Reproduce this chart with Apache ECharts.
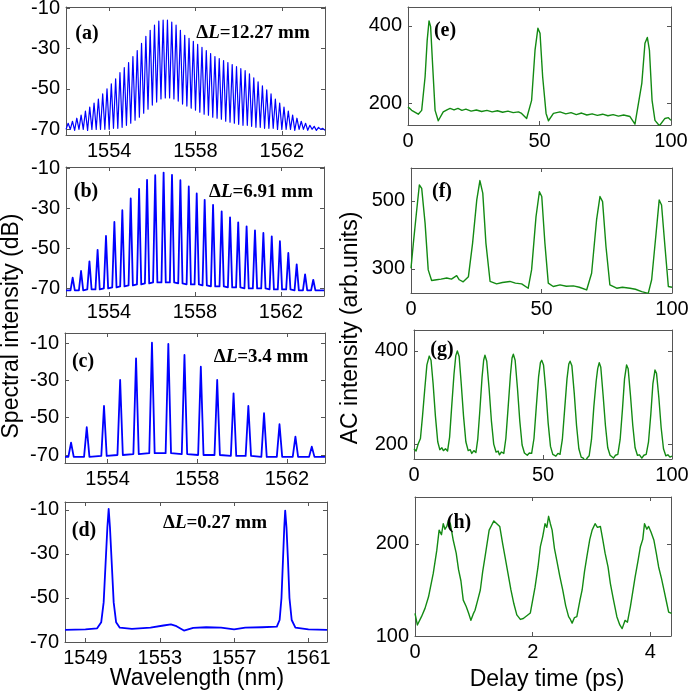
<!DOCTYPE html>
<html>
<head>
<meta charset="utf-8">
<title>Comb spectra and autocorrelation traces</title>
<script src="https://cdn.jsdelivr.net/npm/echarts@6/dist/echarts.min.js"></script>
<style>
    html, body { margin: 0; padding: 0; background: #fff; }
    #chart { width: 691px; height: 697px; }
</style>
</head>
<body>
<div id="chart"></div>
<script>
// ---- (a) dL = 12.27 mm : fringe tops and bottoms
const aPeakWl = [1552.1, 1552.3, 1552.5, 1552.7, 1552.9, 1553.1, 1553.3, 1553.5, 1553.7, 1553.9,
    1554.1, 1554.3, 1554.5, 1554.7, 1554.9, 1555.1, 1555.3, 1555.5, 1555.7, 1555.9,
    1556.1, 1556.3, 1556.5, 1556.7, 1556.9, 1557.1, 1557.3, 1557.5, 1557.7, 1557.9,
    1558.1, 1558.3, 1558.5, 1558.7, 1558.9, 1559.1, 1559.3, 1559.5, 1559.7, 1559.9,
    1560.1, 1560.3, 1560.5, 1560.7, 1560.9, 1561.1, 1561.3, 1561.5, 1561.7, 1561.9,
    1562.1, 1562.3, 1562.5, 1562.7, 1562.9, 1563.1, 1563.3, 1563.5, 1563.7, 1563.9];
const aPeakDb = [-67, -66, -64.5, -63, -61, -59, -57, -55, -52.5, -50,
    -47.5, -45, -42, -39.5, -37, -34, -31, -27.5, -24, -21,
    -18.5, -16.5, -16, -16, -17, -18.5, -21, -23.5, -25, -26.5,
    -28, -29.5, -31, -32.5, -34, -35, -36, -37, -38, -39,
    -40, -41, -42.5, -44.5, -46.5, -48.5, -50.5, -52.5, -55, -57,
    -59, -61, -63, -64.5, -66, -67, -68, -68.5, -69, -69.5];
const aValleyWl = [1552.0, 1552.2, 1552.4, 1552.6, 1552.8, 1553.0, 1553.2, 1553.4, 1553.6, 1553.8,
    1554.0, 1554.2, 1554.4, 1554.6, 1554.8, 1555.0, 1555.2, 1555.4, 1555.6, 1555.8,
    1556.0, 1556.2, 1556.4, 1556.6, 1556.8, 1557.0, 1557.2, 1557.4, 1557.6, 1557.8,
    1558.0, 1558.2, 1558.4, 1558.6, 1558.8, 1559.0, 1559.2, 1559.4, 1559.6, 1559.8,
    1560.0, 1560.2, 1560.4, 1560.6, 1560.8, 1561.0, 1561.2, 1561.4, 1561.6, 1561.8,
    1562.0, 1562.2, 1562.4, 1562.6, 1562.8, 1563.0, 1563.2, 1563.4, 1563.6, 1563.8, 1564.0];
const aValleyDb = [-70, -70, -70.5, -70, -70, -70.5, -70, -70, -70, -70,
    -70, -69.5, -69.5, -69, -68, -67, -65.5, -64, -62, -60,
    -58, -56.5, -55, -54.5, -54.5, -55, -56, -57.5, -58.5, -59.5,
    -60.5, -61.5, -62.5, -63, -64, -64.5, -65, -66, -66.5, -67,
    -67.5, -68, -68, -68.5, -69, -69, -69.5, -69.5, -69.5, -70,
    -70, -70, -70, -70.5, -70, -70, -70.5, -70, -70.5, -70, -70.5];

// ---- (b) dL = 6.91 mm
const bPeakWl = [1552.31, 1552.70, 1553.09, 1553.47, 1553.86, 1554.25, 1554.62, 1555.01, 1555.40, 1555.77,
    1556.15, 1556.54, 1556.93, 1557.32, 1557.71, 1558.08, 1558.45, 1558.84, 1559.24, 1559.63,
    1560.01, 1560.40, 1560.79, 1561.18, 1561.57, 1561.95, 1562.34, 1562.73, 1563.12, 1563.50];
const bPeakDb = [-64.6, -61.3, -56.5, -50.7, -43.8, -36.8, -30.9, -25, -20.2, -15.7,
    -13.4, -12.1, -13.2, -15.9, -19, -22.5, -25.7, -28.2, -31.5, -34.5,
    -37, -39, -41, -42.3, -44, -46.4, -52.3, -58, -63, -65.7];
const bBaseDb = [-71, -71, -70.5, -70.5, -70, -69.5, -69, -68.5, -68, -67.5,
    -67, -67, -67, -67.5, -68, -68, -68.5, -69, -69, -69.5,
    -69.5, -70, -70, -70, -70.5, -70.5, -70.5, -71, -71, -71];
const bFoot = 0.1;   // half width of a comb line at its foot (nm)

// ---- (c) dL = 3.4 mm
const cPeakWl = [1552.37, 1553.07, 1553.84, 1554.56, 1555.27, 1555.98, 1556.71, 1557.43,
    1558.16, 1558.89, 1559.62, 1560.28, 1560.98, 1561.67, 1562.38, 1563.11];
const cPeakDb = [-63.4, -55.1, -43.7, -29.7, -18.1, -9.7, -10.4, -16.3,
    -22.6, -29.7, -36.9, -43.7, -47.6, -53.5, -60.2, -65.5];
const cBaseDb = [-71, -71, -70.5, -70, -69.5, -69, -69, -69.5,
    -70, -70, -70.5, -70.5, -71, -71, -71, -71];
const cFoot = 0.12;

// ---- (d) dL = 0.27 mm
const dWl = [1547.9, 1549.0, 1549.63, 1549.85, 1549.98, 1550.08, 1550.18, 1550.25, 1550.32, 1550.42,
    1550.52, 1550.65, 1550.85, 1551.5, 1552.5, 1553.2, 1553.6, 1553.9, 1554.3, 1554.8,
    1555.5, 1556.3, 1557.0, 1557.6, 1558.5, 1559.3, 1559.45, 1559.55, 1559.63, 1559.7,
    1559.75, 1559.82, 1559.9, 1559.98, 1560.1, 1560.3, 1561.0, 1562.0];
const dDb = [-64.5, -64.3, -63.8, -61, -52, -35, -18, -9.5, -18, -35,
    -52, -61, -63.5, -64, -63.5, -62.5, -62, -62.8, -64.8, -63.6,
    -63.3, -63.5, -64.3, -63.5, -63.3, -63, -60, -50, -33, -18,
    -10.3, -18, -33, -50, -60, -63.5, -64.3, -64.5];

// ---- (e) autocorrelation, 0-100 ps
const eT = [0, 1.4, 3.9, 5.2, 6.5, 7.3, 8.0, 8.6, 9.4, 10.3,
    11.5, 13.4, 15, 16, 17.5, 19, 20.5, 22, 24, 26,
    28, 30, 32, 34, 36, 38, 40, 42, 43.2, 45.1,
    47, 48.3, 49.4, 50.2, 51.2, 52.5, 53.4, 55.3, 57.8, 60,
    62, 64, 66, 68, 70, 72, 74, 76, 78, 80,
    82, 84.4, 86.3, 88.9, 90.1, 91, 91.8, 92.8, 93.9, 95.6,
    97.7, 99, 100];
const eVal = [190, 181, 171, 181, 268, 363, 413, 398, 294, 181,
    154, 177, 183, 186, 182, 186, 181, 184, 179, 182,
    178, 181, 177, 180, 176, 179, 175, 177, 173, 160,
    207, 337, 394, 381, 268, 173, 154, 173, 177, 172,
    175, 170, 174, 169, 172, 168, 171, 167, 170, 166,
    169, 165, 145, 251, 355, 370, 337, 207, 155, 141,
    160, 162, 155];

// ---- (f)
const fT = [0, 0.9, 2.2, 3.2, 4.1, 5.4, 6.6, 7.9, 9.8, 11.5,
    13.7, 15.5, 17.5, 18.5, 20, 22, 23.6, 25.2, 26.4, 27.5,
    28.7, 30.3, 32.8, 35, 37.9, 40, 42.4, 44.9, 46.2, 47.9,
    49.2, 50.1, 51.3, 52.6, 54.5, 57.1, 59.5, 62.2, 64.5, 67.3,
    69.2, 71.1, 72.4, 73.4, 74.7, 76.2, 78.8, 81, 83.9, 86,
    88.4, 90.9, 92.2, 93.9, 95.1, 96, 97.3, 98.6, 100];
const fVal = [302, 375, 474, 547, 537, 434, 297, 266, 268, 270,
    273, 270, 280, 268, 262, 277, 376, 503, 560, 523,
    376, 263, 256, 260, 263, 258, 256, 243, 297, 454,
    527, 513, 376, 258, 248, 253, 249, 250, 246, 238,
    287, 444, 513, 498, 366, 253, 243, 246, 243, 240,
    233, 228, 268, 405, 503, 488, 366, 248, 246];

// ---- (g)
const gT = [0, 0.8, 1.6, 2.5, 3.3, 4.2, 5.0, 5.9, 6.6, 7.4,
    8.3, 9.2, 10.0, 10.8, 11.4, 12.2, 13.0, 13.8, 14.6, 15.5,
    16.2, 16.8, 17.5, 18.3, 19.2, 20.1, 21.0, 21.8, 22.4, 23.2,
    24.0, 24.7, 25.5, 26.4, 27.0, 27.5, 28.2, 29.1, 30.0, 30.9,
    31.8, 32.6, 33.1, 33.9, 34.8, 35.6, 36.5, 37.4, 38.0, 38.5,
    39.2, 40.1, 41.0, 41.9, 42.8, 43.4, 43.9, 44.7, 45.6, 46.5,
    47.4, 48.3, 49.0, 49.5, 50.2, 51.1, 52.0, 52.9, 53.8, 54.5,
    55.0, 55.8, 56.6, 57.5, 58.4, 59.3, 60.0, 60.5, 61.2, 62.1,
    63.0, 63.9, 64.8, 65.6, 66.3, 67.1, 67.9, 68.8, 69.7, 70.6,
    71.2, 71.8, 72.4, 73.3, 74.2, 75.1, 76.0, 76.7, 77.3, 78.1,
    79.0, 79.9, 80.8, 81.6, 82.4, 83.0, 83.9, 84.8, 85.7, 86.6,
    87.4, 88.3, 89.1, 90.0, 90.9, 91.8, 92.6, 93.4, 94.0, 94.9,
    95.8, 96.7, 97.6, 98.4, 99.2, 100];
const gVal = [190, 185, 200, 212, 260, 320, 370, 389, 380, 330,
    260, 205, 188, 192, 186, 190, 185, 215, 280, 350,
    390, 400, 388, 330, 260, 205, 186, 188, 180, 186,
    182, 210, 270, 345, 380, 391, 378, 320, 250, 200,
    183, 185, 177, 183, 180, 212, 280, 350, 385, 393,
    380, 320, 250, 198, 181, 183, 176, 181, 180, 212,
    280, 345, 375, 380, 370, 315, 245, 195, 178, 181,
    174, 180, 178, 210, 275, 340, 372, 378, 368, 310,
    240, 190, 172, 170, 163, 170, 175, 210, 280, 335,
    362, 375, 365, 305, 240, 192, 176, 178, 170, 176,
    178, 210, 275, 340, 370, 362, 305, 240, 192, 176,
    177, 170, 176, 178, 205, 265, 330, 359, 352, 300,
    235, 190, 175, 177, 172, 174];

// ---- (h) 0-4.3 ps
const hT = [0, 0.04, 0.11, 0.17, 0.23, 0.31, 0.37, 0.41, 0.45, 0.48,
    0.51, 0.54, 0.57, 0.6, 0.65, 0.7, 0.74, 0.78, 0.82, 0.87,
    0.91, 0.95, 0.99, 1.02, 1.07, 1.11, 1.15, 1.19, 1.26, 1.3,
    1.34, 1.39, 1.44, 1.49, 1.53, 1.58, 1.63, 1.68, 1.73, 1.79,
    1.84, 1.9, 1.96, 2.04, 2.09, 2.13, 2.17, 2.21, 2.24, 2.27,
    2.3, 2.33, 2.37, 2.41, 2.46, 2.51, 2.56, 2.61, 2.64, 2.67,
    2.71, 2.75, 2.8, 2.84, 2.88, 2.92, 2.97, 3.01, 3.06, 3.1,
    3.15, 3.19, 3.23, 3.28, 3.32, 3.37, 3.43, 3.48, 3.52, 3.57,
    3.61, 3.66, 3.7, 3.74, 3.79, 3.83, 3.87, 3.9, 3.94, 3.97,
    4.01, 4.06, 4.1, 4.14, 4.19, 4.23, 4.27, 4.31, 4.36];
const hVal = [124.6, 112, 121, 130, 142.6, 168, 193, 215, 210, 222,
    216, 219, 226, 222, 204, 190, 172, 160, 139, 132,
    125, 117, 124, 128, 140, 150, 170, 186, 215, 220,
    225, 222, 219, 200, 186, 168, 150, 135, 123, 118,
    119, 122, 125, 153, 175, 197, 208, 222, 218, 230,
    222, 215, 195, 182, 165, 150, 133, 121, 118, 114,
    120, 121, 138, 150, 170, 186, 205, 215, 222, 218,
    219, 205, 190, 175, 157, 140, 121, 112, 108, 117,
    115, 132, 148, 164, 182, 197, 205, 222, 216, 219,
    213, 204, 190, 175, 162, 150, 138, 126, 124.6];

// tick labels
const dbTicks = [-70, -50, -30, -10];
const wlTicks = [1554, 1558, 1562];
const wlTicksD = [1549, 1553, 1557, 1561];
const psTicks = [0, 50, 100];
const psTicksH = [0, 2, 4];

const BLUE = '#0000ff';
const GREEN = '#138a13';
const AXIS_COLOR = '#555';
const SANS = '"Liberation Sans", Arial, sans-serif';
const SERIF = '"Liberation Serif", "Times New Roman", serif';

function zip(xs, ys) {
    return xs.map(function (x, i) { return [x, ys[i]]; });
}

// alternate valley / peak so the fringes come out as one trace
function fringeLine(vWl, vDb, pWl, pDb) {
    var pts = [];
    for (var i = 0; i < vWl.length; i++) {
        pts.push([vWl[i], vDb[i]]);
        if (i < pWl.length) pts.push([pWl[i], pDb[i]]);
    }
    return pts;
}

// narrow comb lines sitting on a baseline
function combLine(wl, top, base, foot, xMin, xMax) {
    var pts = [[xMin, base[0]]];
    for (var i = 0; i < wl.length; i++) {
        pts.push([wl[i] - foot, base[i]]);
        pts.push([wl[i], top[i]]);
        pts.push([wl[i] + foot, base[i]]);
    }
    pts.push([xMax, base[base.length - 1]]);
    return pts;
}

const panels = [
    { grid: [66, 7, 259, 128], x: [1552, 1564], y: [-72.8, -9.5], xt: wlTicks, yt: dbTicks,
      data: fringeLine(aValleyWl, aValleyDb, aPeakWl, aPeakDb), color: BLUE, lw: 1.2,
      tag: '(a)', tagAt: [87, 34], note: '=12.27 mm', noteAt: [253, 33] },
    { grid: [66, 167, 258, 129], x: [1552, 1564], y: [-73.8, -9.3], xt: wlTicks, yt: dbTicks,
      data: combLine(bPeakWl, bPeakDb, bBaseDb, bFoot, 1552, 1564), color: BLUE, lw: 1.8,
      tag: '(b)', tagAt: [86, 192], note: '=6.91 mm', noteAt: [261, 192] },
    { grid: [65, 333, 260, 130], x: [1552.1, 1563.7], y: [-74.3, -4.5], xt: wlTicks, yt: dbTicks,
      data: combLine(cPeakWl, cPeakDb, cBaseDb, cFoot, 1552.1, 1563.7), color: BLUE, lw: 1.8,
      tag: '(c)', tagAt: [83, 362], note: '=3.4 mm', noteAt: [261, 357] },
    { grid: [65, 502, 262, 140], x: [1547.9, 1562], y: [-70, -6.4], xt: wlTicksD, yt: dbTicks,
      data: zip(dWl, dDb), color: BLUE, lw: 1.8,
      tag: '(d)', tagAt: [84, 531], note: '=0.27 mm', noteAt: [215, 523] },
    { grid: [408, 7, 263, 118], x: [0, 100], y: [143, 449], xt: psTicks, yt: [200, 400],
      data: zip(eT, eVal), color: GREEN, lw: 1.4, tag: '(e)', tagAt: [445, 31] },
    { grid: [411, 168, 261, 125], x: [0, 100], y: [229, 597], xt: psTicks, yt: [300, 500],
      data: zip(fT, fVal), color: GREEN, lw: 1.4, tag: '(f)', tagAt: [442, 192] },
    { grid: [414, 330, 258, 129], x: [0, 100], y: [168, 445], xt: psTicks, yt: [200, 400],
      data: zip(gT, gVal), color: GREEN, lw: 1.4, tag: '(g)', tagAt: [442, 350] },
    { grid: [415, 497, 256, 139], x: [0, 4.35], y: [100, 251], xt: psTicksH, yt: [100, 200],
      data: zip(hT, hVal), color: GREEN, lw: 1.4, tag: '(h)', tagAt: [459, 523] }
];

function makeAxis(gi, pos, range, ticks, withLabels) {
    return {
        type: 'value',
        gridIndex: gi,
        position: pos,
        min: range[0],
        max: range[1],
        axisLine: { show: true, onZero: false, lineStyle: { color: AXIS_COLOR, width: 1 } },
        axisTick: { show: true, inside: true, length: 4, customValues: ticks,
                    lineStyle: { color: AXIS_COLOR, width: 1 } },
        axisLabel: { show: withLabels, customValues: ticks, margin: 6, color: '#000',
                     fontSize: 20, fontFamily: SANS,
                     formatter: function (v) { return String(v); } },
        splitLine: { show: false }
    };
}

var grids = [], xAxes = [], yAxes = [], series = [], texts = [];

panels.forEach(function (p, i) {
    grids.push({ left: p.grid[0], top: p.grid[1], width: p.grid[2], height: p.grid[3],
                 show: false, containLabel: false, outerBoundsMode: 'none' });
    xAxes.push(makeAxis(i, 'bottom', p.x, p.xt, true));
    xAxes.push(makeAxis(i, 'top', p.x, p.xt, false));
    yAxes.push(makeAxis(i, 'left', p.y, p.yt, true));
    yAxes.push(makeAxis(i, 'right', p.y, p.yt, false));
    series.push({
        type: 'line',
        xAxisIndex: 2 * i,
        yAxisIndex: 2 * i,
        data: p.data,
        showSymbol: false,
        clip: true,
        silent: true,
        lineStyle: { color: p.color, width: p.lw, join: 'round' }
    });
    texts.push({
        type: 'text', x: p.tagAt[0], y: p.tagAt[1], z: 10,
        style: { text: p.tag, font: 'bold 20px ' + SERIF, fill: '#000',
                 align: 'center', verticalAlign: 'middle',
                 textAlign: 'center', textVerticalAlign: 'middle' }
    });
    if (p.note) {
        texts.push({
            type: 'text', x: p.noteAt[0], y: p.noteAt[1], z: 10,
            style: {
                text: '{d|\u0394}{l|L}{d|' + p.note + '}',
                rich: {
                    d: { font: 'bold 19px ' + SERIF, fill: '#000' },
                    l: { font: 'italic bold 19px ' + SERIF, fill: '#000' }
                },
                align: 'center', verticalAlign: 'middle',
                textAlign: 'center', textVerticalAlign: 'middle'
            }
        });
    }
});

// axis titles
function title(str, x, y, rot) {
    return {
        type: 'text', x: x, y: y, rotation: rot,
        style: { text: str, font: '23px ' + SANS, fill: '#000',
                 align: 'center', verticalAlign: 'middle',
                 textAlign: 'center', textVerticalAlign: 'middle' }
    };
}
texts.push(title('Spectral intensity (dB)', 12, 326, Math.PI / 2));
texts.push(title('AC intensity (arb.units)', 351, 328, Math.PI / 2));
texts.push(title('Wavelength (nm)', 197, 679, 0));
texts.push(title('Delay time (ps)', 547, 680, 0));

var myChart = echarts.init(document.getElementById('chart'), null, { renderer: 'canvas' });
myChart.setOption({
    animation: false,
    backgroundColor: '#fff',
    grid: grids,
    xAxis: xAxes,
    yAxis: yAxes,
    series: series,
    graphic: texts
});
</script>
</body>
</html>
